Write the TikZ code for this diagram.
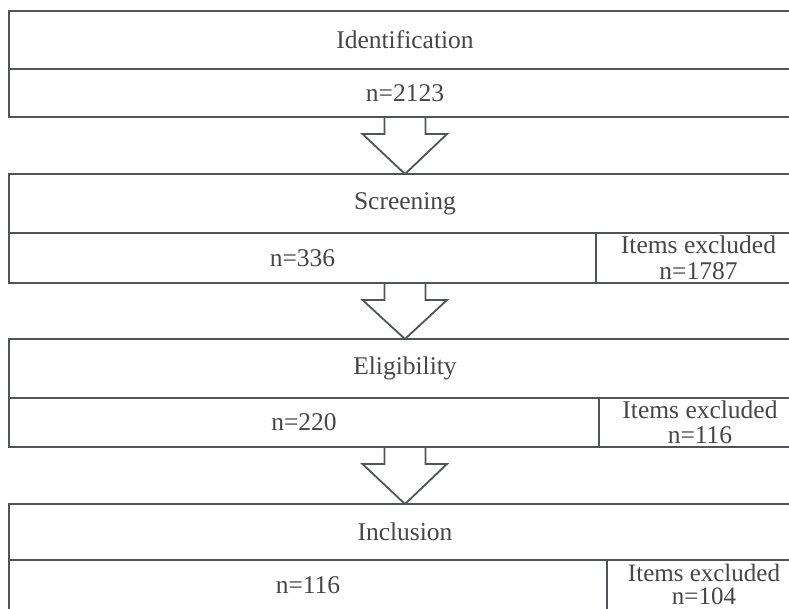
\documentclass[tikz,border=0pt]{standalone}
\usepackage{fontspec}
\setmainfont{Liberation Serif}
\usepackage{xcolor}
\usepackage{tikz}
\usetikzlibrary{calc, positioning}
\definecolor{boxline}{RGB}{80,84,88}
\definecolor{boxtext}{RGB}{70,70,70}

\begin{document}
\begin{tikzpicture}[x=1pt, y=-1pt,
        cell/.style={draw=boxline, line width=1.8pt, outer sep=0pt, inner sep=0pt,
            anchor=north west, text=boxtext, align=center,
            font=\fontsize{25.5}{25.5}\selectfont},
        blockarrow/.style={draw=boxline, line width=1.8pt, line join=miter}]
    \useasboundingbox (0,0) rectangle (789,608);
    \clip (0,0) rectangle (789,608);
    % stages
    \node[cell, minimum width=792pt, minimum height=58pt] (ident) at (9,11) {Identification};
    \node[cell, minimum width=792pt, minimum height=48pt] (identn) at (ident.south west) {n=2123};

    \node[cell, minimum width=792pt, minimum height=59pt] (screen) at (9,174) {Screening};
    \node[cell, minimum width=587pt, minimum height=50pt] (screenn) at (screen.south west) {n=336};
    \node[cell, minimum width=205pt, minimum height=50pt] (screenx) at (screenn.north east) {Items excluded\\n=1787};

    \node[cell, minimum width=792pt, minimum height=59pt] (elig) at (9,339) {Eligibility};
    \node[cell, minimum width=590pt, minimum height=49pt] (elign) at (elig.south west) {n=220};
    \node[cell, minimum width=202pt, minimum height=49pt] (eligx) at (elign.north east) {Items excluded\\n=116};

    \node[cell, minimum width=792pt, minimum height=56pt] (incl) at (9,504) {Inclusion};
    \node[cell, minimum width=598pt, minimum height=49.5pt] (incln) at (incl.south west) {n=116};
    \node[cell, minimum width=194pt, minimum height=49.5pt, font=\fontsize{25}{23}\selectfont]
        (inclx) at (incln.north east) {Items excluded\\n=104};

    % block arrows between stages
    \foreach \top/\low/\next in {ident/identn/screen, screen/screenn/elig, elig/elign/incl}
        \draw[blockarrow] ($(\top.south |- \low.south)+(-20.5,0)$) -- ++(0,17) -- ++(-22,0)
            -- (\next.north) -- ($(\top.south |- \low.south)+(42,17)$) -- ++(-21.5,0) -- ++(0,-17);
\end{tikzpicture}
\end{document}
